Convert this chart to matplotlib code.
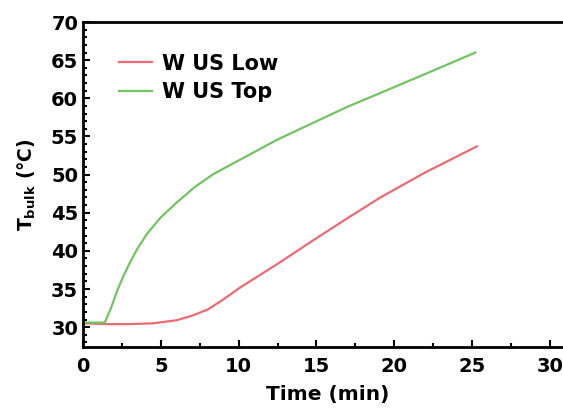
import matplotlib
matplotlib.use("Agg")
import matplotlib.pyplot as plt
from matplotlib.ticker import MultipleLocator

plt.rcParams["font.family"] = ["DejaVu Sans"]
plt.rcParams["mathtext.default"] = "regular"

# Heating curves
time_low = [0, 1.5, 3, 4.5, 6.0, 7.0, 8.0, 9.0, 10.1, 12.5, 14.8, 17.0, 19.1, 22.0, 25.3]
temp_low = [30.5, 30.4, 30.4, 30.5, 30.9, 31.5, 32.3, 33.6, 35.2, 38.3, 41.4, 44.3, 47.0, 50.3, 53.7]

time_top = [0, 1.4, 1.8, 2.2, 2.6, 3.0, 3.5, 4.1, 5.0, 6.0, 7.2, 8.4, 10.5, 12.5, 14.8, 17.0, 19.1, 22.0, 25.2]
temp_top = [30.6, 30.6, 32.5, 34.8, 36.7, 38.4, 40.3, 42.2, 44.4, 46.3, 48.4, 50.1, 52.4, 54.6, 56.8, 58.9, 60.7, 63.2, 66.0]

labels = ["W US Low", "W US Top"]
colors = ["#ea6b73", "#72c462"]

fig = plt.figure(figsize=(5.63, 4.15), dpi=100)
ax = fig.add_axes([0.1474, 0.1639, 0.871, 0.783])

ax.plot(time_low, temp_low, color=colors[0], lw=1.6, label=labels[0])
ax.plot(time_top, temp_top, color=colors[1], lw=1.6, label=labels[1])

ax.set_xlim(0, 31.5)
ax.set_ylim(27.4, 70)
ax.xaxis.set_major_locator(MultipleLocator(5))
ax.xaxis.set_minor_locator(MultipleLocator(2.5))
ax.yaxis.set_major_locator(MultipleLocator(5))
ax.yaxis.set_minor_locator(MultipleLocator(1))
ax.tick_params(which="both", direction="in", width=1.5)
ax.tick_params(which="major", length=5, labelsize=14)
ax.tick_params(which="minor", length=3)
ax.tick_params(axis="x", which="major", pad=7)
for lab in ax.get_xticklabels() + ax.get_yticklabels():
    lab.set_fontweight("bold")
for sp in ax.spines.values():
    sp.set_linewidth(2)

ax.set_xlabel("Time (min)", fontsize=14.5, fontweight="bold", labelpad=7)
ax.set_ylabel(r"T$_{bulk}$ (°C)", fontsize=13.5, fontweight="semibold", labelpad=9)

leg = ax.legend(loc="upper left", bbox_to_anchor=(0.035, 0.96), frameon=False,
                handlelength=1.6, handletextpad=0.45, labelspacing=0.4,
                prop={"size": 15, "weight": "bold"})

fig.savefig("out.png", dpi=100)
